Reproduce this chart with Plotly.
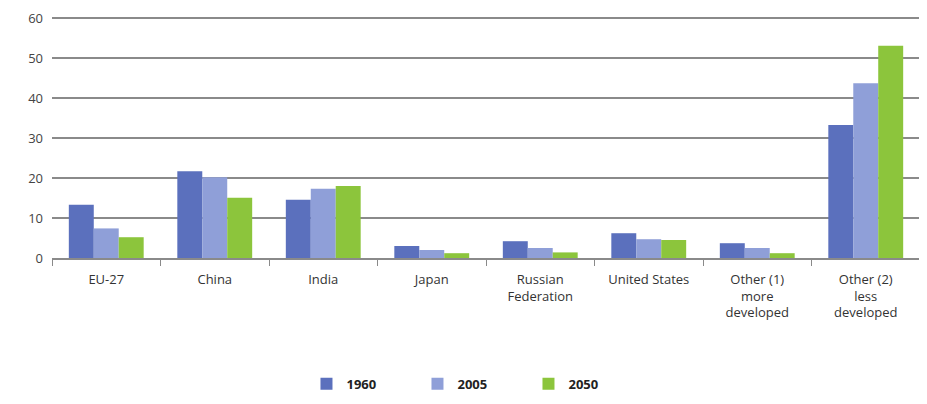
import plotly.graph_objects as go

categories = ["EU-27", "China", "India", "Japan", "Russian<br>Federation", "United States",
              "Other (1)<br>more<br>developed", "Other (2)<br>less<br>developed"]
v1960 = [13.3, 21.7, 14.6, 3.0, 4.2, 6.2, 3.7, 33.3]
v2005 = [7.4, 20.2, 17.3, 2.0, 2.5, 4.7, 2.5, 43.7]
v2050 = [5.2, 15.1, 18.0, 1.2, 1.4, 4.5, 1.2, 53.1]
series_names = ["1960", "2005", "2050"]
colors = ["#5b70bd", "#8f9fd8", "#8cc53c"]

fig = go.Figure()
for name, vals, c in zip(series_names, [v1960, v2005, v2050], colors):
    fig.add_trace(go.Bar(x=categories, y=vals, name="<b>" + name + "</b>", marker=dict(color=c, line=dict(width=0))))

fig.update_layout(
    width=927, height=404,
    margin=dict(l=44, r=15, t=9, b=154),
    paper_bgcolor="white", plot_bgcolor="white",
    barmode="group", bargap=0.31, bargroupgap=0,
    font=dict(family="Open Sans, sans-serif", size=13, color="#333"),
    legend=dict(orientation="h", x=0.485, xanchor="center", y=-0.46, yanchor="top",
                entrywidth=66, font=dict(size=13, color="#222"), traceorder="normal"),
    showlegend=True,
)
fig.update_yaxes(range=[0, 60.3], tickvals=[0, 10, 20, 30, 40, 50, 60], showgrid=True, gridcolor="#8a8a8a", gridwidth=2,
                 zeroline=False, showline=False, ticks="", tickfont=dict(size=13, color="#444"),
                 ticklabelstandoff=8, automargin=False, ticklabeloverflow="allow")
fig.update_xaxes(showline=True, linecolor="#8a8a8a", linewidth=2, ticks="outside", tickson="boundaries",
                 ticklen=6, tickcolor="#8a8a8a", tickwidth=1, showgrid=False,
                 tickfont=dict(size=13, color="#333"), ticklabelstandoff=8)
fig.write_html("out.html")
